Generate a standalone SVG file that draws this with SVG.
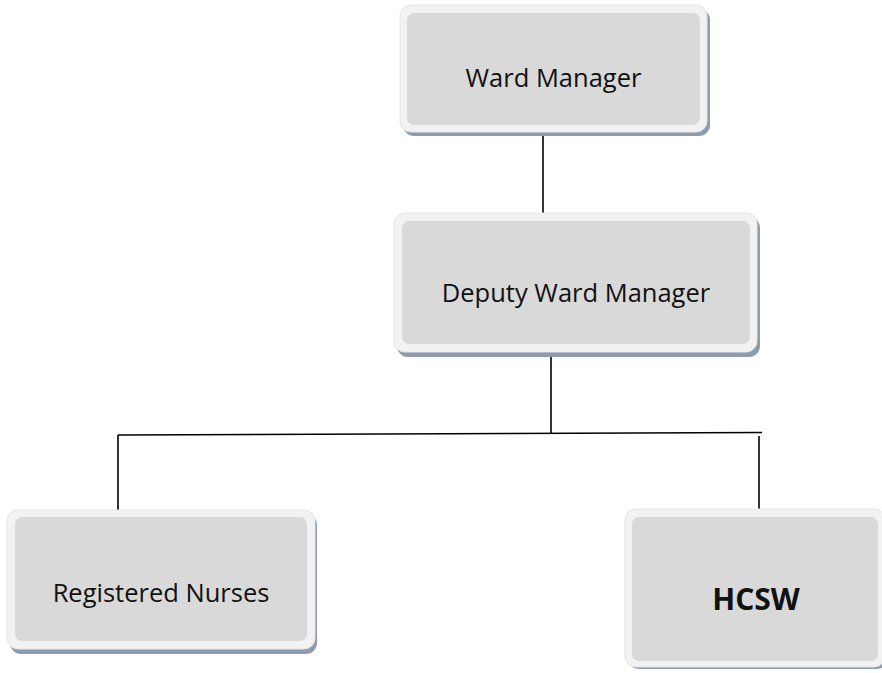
<svg xmlns="http://www.w3.org/2000/svg" width="882" height="673" viewBox="0 0 882 673">
<style>
.sh{fill:#8d9bb1}
.out{fill:#f2f2f2;stroke:#e4e4e4;stroke-width:1}
.in{fill:#d9d9d9}
.t{font-family:"Open Sans","Liberation Sans",sans-serif;font-size:25.5px;fill:#111;text-anchor:middle}
.b{font-weight:bold;font-size:30px}
.c{stroke:#000;stroke-width:1.6;fill:none}
</style>
<rect width="882" height="673" fill="#fff"/>
<g id="connectors">
<line class="c" x1="543" y1="135" x2="543" y2="213"/>
<line class="c" x1="551" y1="356" x2="551" y2="434"/>
<line class="c" x1="118" y1="435" x2="762" y2="432.5"/>
<line class="c" x1="118" y1="435" x2="118" y2="510"/>
<line class="c" x1="759" y1="436" x2="759" y2="510"/>
</g>
<g id="ward-manager">
<rect class="sh" x="403" y="9" width="307" height="127" rx="11"/>
<rect class="out" x="400" y="5" width="307" height="127" rx="11"/>
<rect class="in" x="407" y="13" width="293" height="112" rx="7"/>
<text class="t" x="553.5" y="87">Ward Manager</text>
</g>
<g id="deputy-ward-manager">
<rect class="sh" x="397" y="217" width="363" height="140" rx="11"/>
<rect class="out" x="394" y="213" width="363" height="139" rx="11"/>
<rect class="in" x="402" y="221" width="348" height="123" rx="7"/>
<text class="t" x="576" y="302">Deputy Ward Manager</text>
</g>
<g id="registered-nurses">
<rect class="sh" x="10" y="514" width="307" height="140" rx="11"/>
<rect class="out" x="7" y="510" width="308" height="139" rx="11"/>
<rect class="in" x="15" y="517" width="292" height="124" rx="7"/>
<text class="t" x="161" y="602">Registered Nurses</text>
</g>
<g id="hcsw">
<rect class="sh" x="628" y="513" width="260" height="156" rx="11"/>
<rect class="out" x="625" y="509" width="260" height="158" rx="11"/>
<rect class="in" x="632" y="517" width="246" height="144" rx="7"/>
<text class="t b" x="756" y="610">HCSW</text>
</g>
</svg>
